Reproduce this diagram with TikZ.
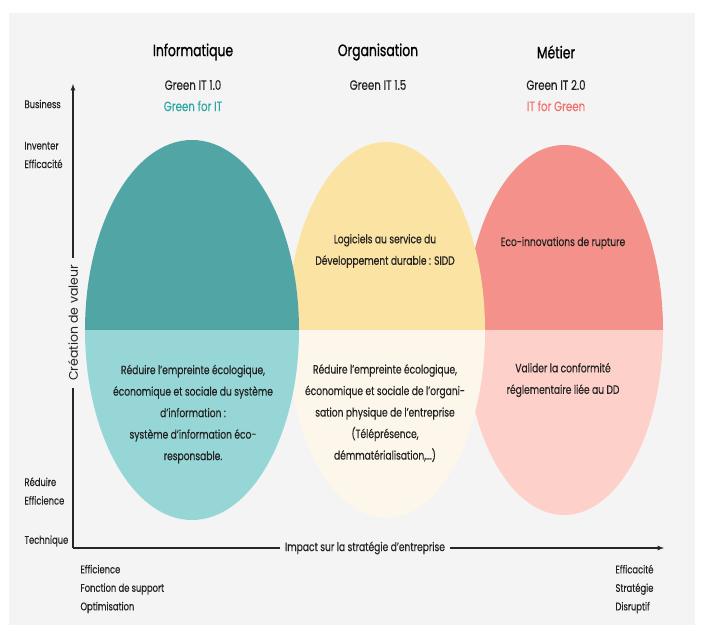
\documentclass[tikz,border=0pt]{standalone}
\usepackage{fontspec}
\setmainfont{Poppins}[FakeStretch=0.76,FakeBold=0.25]
\newfontfamily\headfont{Poppins}[FakeStretch=0.75,FakeBold=0.8]
\newfontfamily\axisfont{Poppins}
\usepackage{xcolor}
\usepackage{tikz}
\usetikzlibrary{calc}
\usetikzlibrary{arrows}
\usetikzlibrary{positioning}

\definecolor{bggray}{HTML}{F4F4F4}
\definecolor{tealdark}{HTML}{52A5A5}
\definecolor{teallight}{HTML}{97D6D6}
\definecolor{yellowdark}{HTML}{FBE3A3}
\definecolor{yellowlight}{HTML}{FDF6EA}
\definecolor{reddark}{HTML}{F4918A}
\definecolor{redlight}{HTML}{FDD1CA}
\definecolor{greenforit}{HTML}{2EA8A2}
\definecolor{itforgreen}{HTML}{F2716C}
\definecolor{ink}{HTML}{222222}

\begin{document}
\begin{tikzpicture}[x=1pt,y=-1pt]
			\tikzset{body/.style={align=center,text=ink,font=\fontsize{12}{21.5}\selectfont}}
			\tikzset{side/.style={align=left,anchor=west,text=ink,font=\fontsize{11}{18.5}\selectfont}}
			\tikzset{head/.style={text=black,font=\headfont\fontsize{16.5}{18}\selectfont}}
			\tikzset{sub/.style={text=ink,font=\fontsize{13.5}{15}\selectfont}}
			\tikzset{flow/.style={-latex,draw=black!85,line width=1.2pt}}
			\useasboundingbox (0,0) rectangle (704,634);
			\fill[bggray] (9,13) rectangle (695,625);
			% half ellipses: red, yellow, teal (teal on top)
			\foreach \cx/\rx/\ry/\top/\bot in {564/99/185/reddark/redlight, 386/99/188/yellowdark/yellowlight, 192/107/190/tealdark/teallight}{
				\begin{scope}
					\clip (\cx-\rx-1,330) rectangle (\cx+\rx+1,100);
					\fill[\top] (\cx,330) ellipse [x radius=\rx, y radius=\ry];
				\end{scope}
				\begin{scope}
					\clip (\cx-\rx-1,330) rectangle (\cx+\rx+1,560);
					\fill[\bot] (\cx,330) ellipse [x radius=\rx, y radius=\ry];
				\end{scope}
			}
			% column heads
			\node[head] (info) at (193,52) {Informatique};
			\node[head] (orga) at (378,52) {Organisation};
			\node[head] (metier) at (556,52) {Métier};
			\node[sub] (it10) at (193,85) {Green IT 1.0};
			\node[sub] (it15) at (378,85) {Green IT 1.5};
			\node[sub] (it20) at (556,85) {Green IT 2.0};
			\node[sub,text=greenforit] (gfit) at (193,106) {Green for IT};
			\node[sub,text=itforgreen] (itfg) at (556,106) {IT for Green};
			% texts in the ellipses
			\node[body] (sidd) at (385,251) {Logiciels au service du\\Développement durable : SIDD};
			\node[body] (rupture) at (563,243) {Eco-innovations de rupture};
			\node[body] (siecho) at (193,414) {Réduire l’empreinte écologique,\\économique et sociale du système\\d’information :\\système d’information éco-\\responsable.};
			\node[body] (orgeco) at (385,413) {Réduire l’empreinte écologique,\\économique et sociale de l’organi-\\sation physique de l’entreprise\\(Téléprésence,\\démmatérialisation,...)};
			\node[body] (conform) at (563,380) {Valider la conformité\\réglementaire liée au DD};
			% axes
			\coordinate (origin) at (73,548);
			\coordinate (ytip) at (73,84);
			\coordinate (xtip) at (664,548);
			\draw[flow] (origin) -- (ytip);
			\draw[flow] (origin) -- (xtip);
			\node[fill=bggray,rotate=90,inner xsep=7pt,text=ink,font=\axisfont\fontsize{12.5}{14}\selectfont] (valeur) at (73,323) {Création de valeur};
			\node[fill=bggray,inner xsep=5pt,text=ink,font=\fontsize{12}{14}\selectfont] (impact) at (365,548) {Impact sur la stratégie d’entreprise};
			% axis labels
			\node[side] (business) at (21,104) {Business};
			\node[side] (inventer) at (21,155) {Inventer\\Efficacité};
			\node[side] (reduire) at (21,491) {Réduire\\Efficience};
			\node[side] (technique) at (21,541) {Technique};
			\node[side] (support) at (77,589) {Efficience\\Fonction de support\\Optimisation};
			\node[side] (disruptif) at (612,589) {Efficacité\\Stratégie\\Disruptif};
\end{tikzpicture}
\end{document}
